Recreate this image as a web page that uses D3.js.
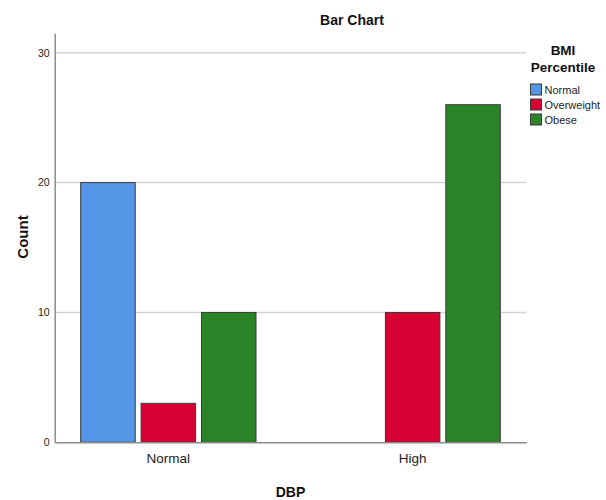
<!DOCTYPE html>
<html>
<head>
<meta charset="utf-8">
<script src="https://cdn.jsdelivr.net/npm/d3@7"></script>
<style>
  body { margin: 0; background: #fff; }
  svg { display: block; font-family: "Liberation Sans", Arial, sans-serif; }
</style>
</head>
<body>
<svg id="chart" width="606" height="500"></svg>
<script>
// ---- data ----
const categories = ["Normal", "High"];
const seriesNames = ["Normal", "Overweight", "Obese"];
const seriesColors = ["#5596e6", "#d70032", "#2b8428"];
const normalValues = [20, 3, 10];   // DBP = Normal
const highValues = [0, 10, 26];     // DBP = High
const yTicks = [0, 10, 20, 30];
const chartTitle = "Bar Chart";
const xTitle = "DBP";
const yTitle = "Count";
const legendTitle = ["BMI", "Percentile"];

const valuesByCategory = { "Normal": normalValues, "High": highValues };
const rows = categories.flatMap(c => seriesNames.map((s, i) => ({ cat: c, series: s, value: valuesByCategory[c][i] })));

// ---- layout ----
const plotLeft = 54.7, plotRight = 526.3, plotTop = 33.3, plotBottom = 442.3;
const svg = d3.select("#chart");

const x0 = d3.scaleBand().domain(categories).range([plotLeft, plotRight]).paddingInner(0.2824).paddingOuter(0.1064);
const x1 = d3.scaleBand().domain(seriesNames).range([0, x0.bandwidth()]).paddingInner(0.0977).paddingOuter(0);
const y = d3.scaleLinear().domain([0, 31.5]).range([plotBottom, plotTop]);
const color = d3.scaleOrdinal().domain(seriesNames).range(seriesColors);

// gridlines
svg.append("g").selectAll("line").data(yTicks.filter(t => t > 0)).join("line")
  .attr("x1", plotLeft).attr("x2", plotRight)
  .attr("y1", d => y(d)).attr("y2", d => y(d))
  .attr("stroke", "#d4d4d4").attr("stroke-width", 1.5);

// bars
svg.append("g").selectAll("rect").data(rows.filter(r => r.value > 0)).join("rect")
  .attr("x", d => x0(d.cat) + x1(d.series))
  .attr("width", x1.bandwidth())
  .attr("y", d => y(d.value))
  .attr("height", d => y(0) - y(d.value))
  .attr("fill", d => color(d.series))
  .attr("stroke", "#3a3a3a").attr("stroke-width", 1);

// y axis
const yAxis = svg.append("g").attr("transform", `translate(${plotLeft},0)`)
  .call(d3.axisLeft(y).tickValues(yTicks).tickSize(0).tickPadding(5).tickFormat(d3.format("d")));
yAxis.select(".domain").attr("stroke", "#8c8c8c").attr("stroke-width", 1.5);
yAxis.selectAll("text").attr("font-size", 10.5).attr("fill", "#222")
  .attr("font-family", "'Liberation Sans', Arial, sans-serif");

// x axis
const xAxis = svg.append("g").attr("transform", `translate(0,${plotBottom})`)
  .call(d3.axisBottom(x0).tickSize(0).tickPadding(11));
xAxis.select(".domain").attr("stroke", "#8c8c8c").attr("stroke-width", 1.5);
xAxis.selectAll("text").attr("font-size", 13.5).attr("fill", "#222")
  .attr("font-family", "'Liberation Sans', Arial, sans-serif");

// titles
svg.append("text").attr("x", 352).attr("y", 25).attr("text-anchor", "middle")
  .attr("font-size", 14).attr("font-weight", "bold").attr("fill", "#111").text(chartTitle);
svg.append("text").attr("x", (plotLeft + plotRight) / 2).attr("y", 497).attr("text-anchor", "middle")
  .attr("font-size", 14).attr("font-weight", "bold").attr("fill", "#111").text(xTitle);
svg.append("text").attr("transform", "translate(27.5,237) rotate(-90)").attr("text-anchor", "middle")
  .attr("font-size", 15).attr("font-weight", "bold").attr("fill", "#111").text(yTitle);

// legend
const lg = svg.append("g");
lg.selectAll("text.lt").data(legendTitle).join("text").attr("class", "lt")
  .attr("x", 563).attr("y", (d, i) => 55 + i * 16.5).attr("text-anchor", "middle")
  .attr("font-size", 13.5).attr("font-weight", "bold").attr("fill", "#111").text(d => d);
const items = lg.selectAll("g.item").data(seriesNames).join("g").attr("class", "item")
  .attr("transform", (d, i) => `translate(530.5,${84 + i * 15})`);
items.append("rect").attr("width", 11).attr("height", 11)
  .attr("fill", d => color(d)).attr("stroke", "#3a3a3a").attr("stroke-width", 1);
items.append("text").attr("x", 14).attr("y", 10).attr("font-size", 11).attr("fill", "#222").text(d => d);
</script>
</body>
</html>
